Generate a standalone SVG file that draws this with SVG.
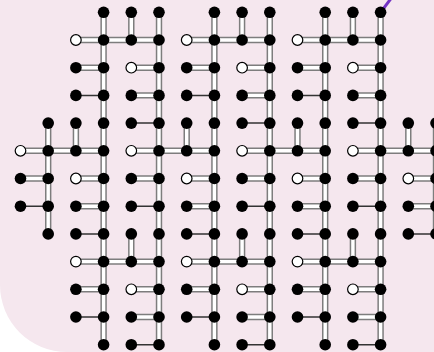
<svg xmlns="http://www.w3.org/2000/svg" xmlns:xlink="http://www.w3.org/1999/xlink" width="434" height="352" viewBox="0 0 434 352">
<style>
.bg{fill:#f5e7ee}
.outer{fill:none;stroke:#7d7d7d;stroke-width:6.4}
.inner{fill:none;stroke:#ffffff;stroke-width:3.4}
.thin{fill:none;stroke:#333;stroke-width:1.5}
.purple{fill:none;stroke:#7433c4;stroke-width:3}
.b{fill:#000}
.w{fill:#fff;stroke:#000;stroke-width:1.2}
</style>
<defs>
<g id="dbl">
<path d="M48.2 123.1V233.9"/>
<path d="M75.9 123.1V150.8"/>
<path d="M103.6 12.3V344.7"/>
<path d="M131.3 12.3V40M131.3 233.9V261.6"/>
<path d="M159 12.3V344.7"/>
<path d="M186.7 123.1V150.8"/>
<path d="M214.4 12.3V344.7"/>
<path d="M242.1 12.3V40M242.1 233.9V261.6"/>
<path d="M269.8 12.3V344.7"/>
<path d="M297.5 123.1V150.8"/>
<path d="M325.2 12.3V344.7"/>
<path d="M352.9 12.3V40M352.9 233.9V261.6"/>
<path d="M380.6 12.3V344.7"/>
<path d="M408.3 123.1V150.8"/>
<path d="M436 123.1V233.9"/>
<path d="M75.9 40H159M186.7 40H269.8M297.5 40H380.6"/>
<path d="M75.9 67.7H103.6M131.3 67.7H159M186.7 67.7H214.4M242.1 67.7H269.8M297.5 67.7H325.2M352.9 67.7H380.6"/>
<path d="M131.3 95.4H159M242.1 95.4H269.8M352.9 95.4H380.6"/>
<path d="M20.5 150.8H103.6M131.3 150.8H214.4M242.1 150.8H325.2M352.9 150.8H436"/>
<path d="M20.5 178.5H48.2M75.9 178.5H103.6M131.3 178.5H159M186.7 178.5H214.4M242.1 178.5H269.8M297.5 178.5H325.2M352.9 178.5H380.6M408.3 178.5H436"/>
<path d="M75.9 206.2H103.6M186.7 206.2H214.4M297.5 206.2H325.2M408.3 206.2H436"/>
<path d="M75.9 261.6H159M186.7 261.6H269.8M297.5 261.6H380.6"/>
<path d="M75.9 289.3H103.6M131.3 289.3H159M186.7 289.3H214.4M242.1 289.3H269.8M297.5 289.3H325.2M352.9 289.3H380.6"/>
<path d="M131.3 317H159M242.1 317H269.8M352.9 317H380.6"/>
</g>
</defs>
<rect class="bg" x="0" y="-100" width="534" height="452" rx="67" ry="67"/>
<g id="connectors">
<line class="purple" x1="399.5" y1="-12.7" x2="380.6" y2="12.3"/>
<use xlink:href="#dbl" href="#dbl" class="outer"/>
<use xlink:href="#dbl" href="#dbl" class="inner"/>
<path class="thin" d="M75.9 95.4H103.6M186.7 95.4H214.4M297.5 95.4H325.2"/>
<path class="thin" d="M131.3 123.1H159M242.1 123.1H269.8M352.9 123.1H380.6"/>
<path class="thin" d="M20.5 206.2H48.2M131.3 206.2H159M242.1 206.2H269.8M352.9 206.2H380.6"/>
<path class="thin" d="M75.9 233.9H103.6M186.7 233.9H214.4M297.5 233.9H325.2M408.3 233.9H436"/>
<path class="thin" d="M75.9 317H103.6M186.7 317H214.4M297.5 317H325.2"/>
<path class="thin" d="M131.3 344.7H159M242.1 344.7H269.8M352.9 344.7H380.6"/>
</g>
<g id="nodes">
<g id="n3-0"><circle class="b" cx="103.6" cy="12.3" r="5.8"/></g>
<g id="n4-0"><circle class="b" cx="131.3" cy="12.3" r="5.8"/></g>
<g id="n5-0"><circle class="b" cx="159" cy="12.3" r="5.8"/></g>
<g id="n7-0"><circle class="b" cx="214.4" cy="12.3" r="5.8"/></g>
<g id="n8-0"><circle class="b" cx="242.1" cy="12.3" r="5.8"/></g>
<g id="n9-0"><circle class="b" cx="269.8" cy="12.3" r="5.8"/></g>
<g id="n11-0"><circle class="b" cx="325.2" cy="12.3" r="5.8"/></g>
<g id="n12-0"><circle class="b" cx="352.9" cy="12.3" r="5.8"/></g>
<g id="n13-0"><circle class="b" cx="380.6" cy="12.3" r="5.8"/></g>

<g id="n2-1"><circle class="w" cx="75.9" cy="40" r="5.3"/></g>
<g id="n3-1"><circle class="b" cx="103.6" cy="40" r="5.8"/></g>
<g id="n4-1"><circle class="b" cx="131.3" cy="40" r="5.8"/></g>
<g id="n5-1"><circle class="b" cx="159" cy="40" r="5.8"/></g>
<g id="n6-1"><circle class="w" cx="186.7" cy="40" r="5.3"/></g>
<g id="n7-1"><circle class="b" cx="214.4" cy="40" r="5.8"/></g>
<g id="n8-1"><circle class="b" cx="242.1" cy="40" r="5.8"/></g>
<g id="n9-1"><circle class="b" cx="269.8" cy="40" r="5.8"/></g>
<g id="n10-1"><circle class="w" cx="297.5" cy="40" r="5.3"/></g>
<g id="n11-1"><circle class="b" cx="325.2" cy="40" r="5.8"/></g>
<g id="n12-1"><circle class="b" cx="352.9" cy="40" r="5.8"/></g>
<g id="n13-1"><circle class="b" cx="380.6" cy="40" r="5.8"/></g>

<g id="n2-2"><circle class="b" cx="75.9" cy="67.7" r="5.8"/></g>
<g id="n3-2"><circle class="b" cx="103.6" cy="67.7" r="5.8"/></g>
<g id="n4-2"><circle class="w" cx="131.3" cy="67.7" r="5.3"/></g>
<g id="n5-2"><circle class="b" cx="159" cy="67.7" r="5.8"/></g>
<g id="n6-2"><circle class="b" cx="186.7" cy="67.7" r="5.8"/></g>
<g id="n7-2"><circle class="b" cx="214.4" cy="67.7" r="5.8"/></g>
<g id="n8-2"><circle class="w" cx="242.1" cy="67.7" r="5.3"/></g>
<g id="n9-2"><circle class="b" cx="269.8" cy="67.7" r="5.8"/></g>
<g id="n10-2"><circle class="b" cx="297.5" cy="67.7" r="5.8"/></g>
<g id="n11-2"><circle class="b" cx="325.2" cy="67.7" r="5.8"/></g>
<g id="n12-2"><circle class="w" cx="352.9" cy="67.7" r="5.3"/></g>
<g id="n13-2"><circle class="b" cx="380.6" cy="67.7" r="5.8"/></g>

<g id="n2-3"><circle class="b" cx="75.9" cy="95.4" r="5.8"/></g>
<g id="n3-3"><circle class="b" cx="103.6" cy="95.4" r="5.8"/></g>
<g id="n4-3"><circle class="b" cx="131.3" cy="95.4" r="5.8"/></g>
<g id="n5-3"><circle class="b" cx="159" cy="95.4" r="5.8"/></g>
<g id="n6-3"><circle class="b" cx="186.7" cy="95.4" r="5.8"/></g>
<g id="n7-3"><circle class="b" cx="214.4" cy="95.4" r="5.8"/></g>
<g id="n8-3"><circle class="b" cx="242.1" cy="95.4" r="5.8"/></g>
<g id="n9-3"><circle class="b" cx="269.8" cy="95.4" r="5.8"/></g>
<g id="n10-3"><circle class="b" cx="297.5" cy="95.4" r="5.8"/></g>
<g id="n11-3"><circle class="b" cx="325.2" cy="95.4" r="5.8"/></g>
<g id="n12-3"><circle class="b" cx="352.9" cy="95.4" r="5.8"/></g>
<g id="n13-3"><circle class="b" cx="380.6" cy="95.4" r="5.8"/></g>

<g id="n1-4"><circle class="b" cx="48.2" cy="123.1" r="5.8"/></g>
<g id="n2-4"><circle class="b" cx="75.9" cy="123.1" r="5.8"/></g>
<g id="n3-4"><circle class="b" cx="103.6" cy="123.1" r="5.8"/></g>
<g id="n4-4"><circle class="b" cx="131.3" cy="123.1" r="5.8"/></g>
<g id="n5-4"><circle class="b" cx="159" cy="123.1" r="5.8"/></g>
<g id="n6-4"><circle class="b" cx="186.7" cy="123.1" r="5.8"/></g>
<g id="n7-4"><circle class="b" cx="214.4" cy="123.1" r="5.8"/></g>
<g id="n8-4"><circle class="b" cx="242.1" cy="123.1" r="5.8"/></g>
<g id="n9-4"><circle class="b" cx="269.8" cy="123.1" r="5.8"/></g>
<g id="n10-4"><circle class="b" cx="297.5" cy="123.1" r="5.8"/></g>
<g id="n11-4"><circle class="b" cx="325.2" cy="123.1" r="5.8"/></g>
<g id="n12-4"><circle class="b" cx="352.9" cy="123.1" r="5.8"/></g>
<g id="n13-4"><circle class="b" cx="380.6" cy="123.1" r="5.8"/></g>
<g id="n14-4"><circle class="b" cx="408.3" cy="123.1" r="5.8"/></g>
<g id="n15-4"><circle class="b" cx="436" cy="123.1" r="5.8"/></g>

<g id="n0-5"><circle class="w" cx="20.5" cy="150.8" r="5.3"/></g>
<g id="n1-5"><circle class="b" cx="48.2" cy="150.8" r="5.8"/></g>
<g id="n2-5"><circle class="b" cx="75.9" cy="150.8" r="5.8"/></g>
<g id="n3-5"><circle class="b" cx="103.6" cy="150.8" r="5.8"/></g>
<g id="n4-5"><circle class="w" cx="131.3" cy="150.8" r="5.3"/></g>
<g id="n5-5"><circle class="b" cx="159" cy="150.8" r="5.8"/></g>
<g id="n6-5"><circle class="b" cx="186.7" cy="150.8" r="5.8"/></g>
<g id="n7-5"><circle class="b" cx="214.4" cy="150.8" r="5.8"/></g>
<g id="n8-5"><circle class="w" cx="242.1" cy="150.8" r="5.3"/></g>
<g id="n9-5"><circle class="b" cx="269.8" cy="150.8" r="5.8"/></g>
<g id="n10-5"><circle class="b" cx="297.5" cy="150.8" r="5.8"/></g>
<g id="n11-5"><circle class="b" cx="325.2" cy="150.8" r="5.8"/></g>
<g id="n12-5"><circle class="w" cx="352.9" cy="150.8" r="5.3"/></g>
<g id="n13-5"><circle class="b" cx="380.6" cy="150.8" r="5.8"/></g>
<g id="n14-5"><circle class="b" cx="408.3" cy="150.8" r="5.8"/></g>
<g id="n15-5"><circle class="b" cx="436" cy="150.8" r="5.8"/></g>

<g id="n0-6"><circle class="b" cx="20.5" cy="178.5" r="5.8"/></g>
<g id="n1-6"><circle class="b" cx="48.2" cy="178.5" r="5.8"/></g>
<g id="n2-6"><circle class="w" cx="75.9" cy="178.5" r="5.3"/></g>
<g id="n3-6"><circle class="b" cx="103.6" cy="178.5" r="5.8"/></g>
<g id="n4-6"><circle class="b" cx="131.3" cy="178.5" r="5.8"/></g>
<g id="n5-6"><circle class="b" cx="159" cy="178.5" r="5.8"/></g>
<g id="n6-6"><circle class="w" cx="186.7" cy="178.5" r="5.3"/></g>
<g id="n7-6"><circle class="b" cx="214.4" cy="178.5" r="5.8"/></g>
<g id="n8-6"><circle class="b" cx="242.1" cy="178.5" r="5.8"/></g>
<g id="n9-6"><circle class="b" cx="269.8" cy="178.5" r="5.8"/></g>
<g id="n10-6"><circle class="w" cx="297.5" cy="178.5" r="5.3"/></g>
<g id="n11-6"><circle class="b" cx="325.2" cy="178.5" r="5.8"/></g>
<g id="n12-6"><circle class="b" cx="352.9" cy="178.5" r="5.8"/></g>
<g id="n13-6"><circle class="b" cx="380.6" cy="178.5" r="5.8"/></g>
<g id="n14-6"><circle class="w" cx="408.3" cy="178.5" r="5.3"/></g>
<g id="n15-6"><circle class="b" cx="436" cy="178.5" r="5.8"/></g>

<g id="n0-7"><circle class="b" cx="20.5" cy="206.2" r="5.8"/></g>
<g id="n1-7"><circle class="b" cx="48.2" cy="206.2" r="5.8"/></g>
<g id="n2-7"><circle class="b" cx="75.9" cy="206.2" r="5.8"/></g>
<g id="n3-7"><circle class="b" cx="103.6" cy="206.2" r="5.8"/></g>
<g id="n4-7"><circle class="b" cx="131.3" cy="206.2" r="5.8"/></g>
<g id="n5-7"><circle class="b" cx="159" cy="206.2" r="5.8"/></g>
<g id="n6-7"><circle class="b" cx="186.7" cy="206.2" r="5.8"/></g>
<g id="n7-7"><circle class="b" cx="214.4" cy="206.2" r="5.8"/></g>
<g id="n8-7"><circle class="b" cx="242.1" cy="206.2" r="5.8"/></g>
<g id="n9-7"><circle class="b" cx="269.8" cy="206.2" r="5.8"/></g>
<g id="n10-7"><circle class="b" cx="297.5" cy="206.2" r="5.8"/></g>
<g id="n11-7"><circle class="b" cx="325.2" cy="206.2" r="5.8"/></g>
<g id="n12-7"><circle class="b" cx="352.9" cy="206.2" r="5.8"/></g>
<g id="n13-7"><circle class="b" cx="380.6" cy="206.2" r="5.8"/></g>
<g id="n14-7"><circle class="b" cx="408.3" cy="206.2" r="5.8"/></g>
<g id="n15-7"><circle class="b" cx="436" cy="206.2" r="5.8"/></g>

<g id="n1-8"><circle class="b" cx="48.2" cy="233.9" r="5.8"/></g>
<g id="n2-8"><circle class="b" cx="75.9" cy="233.9" r="5.8"/></g>
<g id="n3-8"><circle class="b" cx="103.6" cy="233.9" r="5.8"/></g>
<g id="n4-8"><circle class="b" cx="131.3" cy="233.9" r="5.8"/></g>
<g id="n5-8"><circle class="b" cx="159" cy="233.9" r="5.8"/></g>
<g id="n6-8"><circle class="b" cx="186.7" cy="233.9" r="5.8"/></g>
<g id="n7-8"><circle class="b" cx="214.4" cy="233.9" r="5.8"/></g>
<g id="n8-8"><circle class="b" cx="242.1" cy="233.9" r="5.8"/></g>
<g id="n9-8"><circle class="b" cx="269.8" cy="233.9" r="5.8"/></g>
<g id="n10-8"><circle class="b" cx="297.5" cy="233.9" r="5.8"/></g>
<g id="n11-8"><circle class="b" cx="325.2" cy="233.9" r="5.8"/></g>
<g id="n12-8"><circle class="b" cx="352.9" cy="233.9" r="5.8"/></g>
<g id="n13-8"><circle class="b" cx="380.6" cy="233.9" r="5.8"/></g>
<g id="n14-8"><circle class="b" cx="408.3" cy="233.9" r="5.8"/></g>
<g id="n15-8"><circle class="b" cx="436" cy="233.9" r="5.8"/></g>

<g id="n2-9"><circle class="w" cx="75.9" cy="261.6" r="5.3"/></g>
<g id="n3-9"><circle class="b" cx="103.6" cy="261.6" r="5.8"/></g>
<g id="n4-9"><circle class="b" cx="131.3" cy="261.6" r="5.8"/></g>
<g id="n5-9"><circle class="b" cx="159" cy="261.6" r="5.8"/></g>
<g id="n6-9"><circle class="w" cx="186.7" cy="261.6" r="5.3"/></g>
<g id="n7-9"><circle class="b" cx="214.4" cy="261.6" r="5.8"/></g>
<g id="n8-9"><circle class="b" cx="242.1" cy="261.6" r="5.8"/></g>
<g id="n9-9"><circle class="b" cx="269.8" cy="261.6" r="5.8"/></g>
<g id="n10-9"><circle class="w" cx="297.5" cy="261.6" r="5.3"/></g>
<g id="n11-9"><circle class="b" cx="325.2" cy="261.6" r="5.8"/></g>
<g id="n12-9"><circle class="b" cx="352.9" cy="261.6" r="5.8"/></g>
<g id="n13-9"><circle class="b" cx="380.6" cy="261.6" r="5.8"/></g>

<g id="n2-10"><circle class="b" cx="75.9" cy="289.3" r="5.8"/></g>
<g id="n3-10"><circle class="b" cx="103.6" cy="289.3" r="5.8"/></g>
<g id="n4-10"><circle class="w" cx="131.3" cy="289.3" r="5.3"/></g>
<g id="n5-10"><circle class="b" cx="159" cy="289.3" r="5.8"/></g>
<g id="n6-10"><circle class="b" cx="186.7" cy="289.3" r="5.8"/></g>
<g id="n7-10"><circle class="b" cx="214.4" cy="289.3" r="5.8"/></g>
<g id="n8-10"><circle class="w" cx="242.1" cy="289.3" r="5.3"/></g>
<g id="n9-10"><circle class="b" cx="269.8" cy="289.3" r="5.8"/></g>
<g id="n10-10"><circle class="b" cx="297.5" cy="289.3" r="5.8"/></g>
<g id="n11-10"><circle class="b" cx="325.2" cy="289.3" r="5.8"/></g>
<g id="n12-10"><circle class="w" cx="352.9" cy="289.3" r="5.3"/></g>
<g id="n13-10"><circle class="b" cx="380.6" cy="289.3" r="5.8"/></g>

<g id="n2-11"><circle class="b" cx="75.9" cy="317" r="5.8"/></g>
<g id="n3-11"><circle class="b" cx="103.6" cy="317" r="5.8"/></g>
<g id="n4-11"><circle class="b" cx="131.3" cy="317" r="5.8"/></g>
<g id="n5-11"><circle class="b" cx="159" cy="317" r="5.8"/></g>
<g id="n6-11"><circle class="b" cx="186.7" cy="317" r="5.8"/></g>
<g id="n7-11"><circle class="b" cx="214.4" cy="317" r="5.8"/></g>
<g id="n8-11"><circle class="b" cx="242.1" cy="317" r="5.8"/></g>
<g id="n9-11"><circle class="b" cx="269.8" cy="317" r="5.8"/></g>
<g id="n10-11"><circle class="b" cx="297.5" cy="317" r="5.8"/></g>
<g id="n11-11"><circle class="b" cx="325.2" cy="317" r="5.8"/></g>
<g id="n12-11"><circle class="b" cx="352.9" cy="317" r="5.8"/></g>
<g id="n13-11"><circle class="b" cx="380.6" cy="317" r="5.8"/></g>

<g id="n3-12"><circle class="b" cx="103.6" cy="344.7" r="5.8"/></g>
<g id="n4-12"><circle class="b" cx="131.3" cy="344.7" r="5.8"/></g>
<g id="n5-12"><circle class="b" cx="159" cy="344.7" r="5.8"/></g>
<g id="n7-12"><circle class="b" cx="214.4" cy="344.7" r="5.8"/></g>
<g id="n8-12"><circle class="b" cx="242.1" cy="344.7" r="5.8"/></g>
<g id="n9-12"><circle class="b" cx="269.8" cy="344.7" r="5.8"/></g>
<g id="n11-12"><circle class="b" cx="325.2" cy="344.7" r="5.8"/></g>
<g id="n12-12"><circle class="b" cx="352.9" cy="344.7" r="5.8"/></g>
<g id="n13-12"><circle class="b" cx="380.6" cy="344.7" r="5.8"/></g>
</g>
</svg>
